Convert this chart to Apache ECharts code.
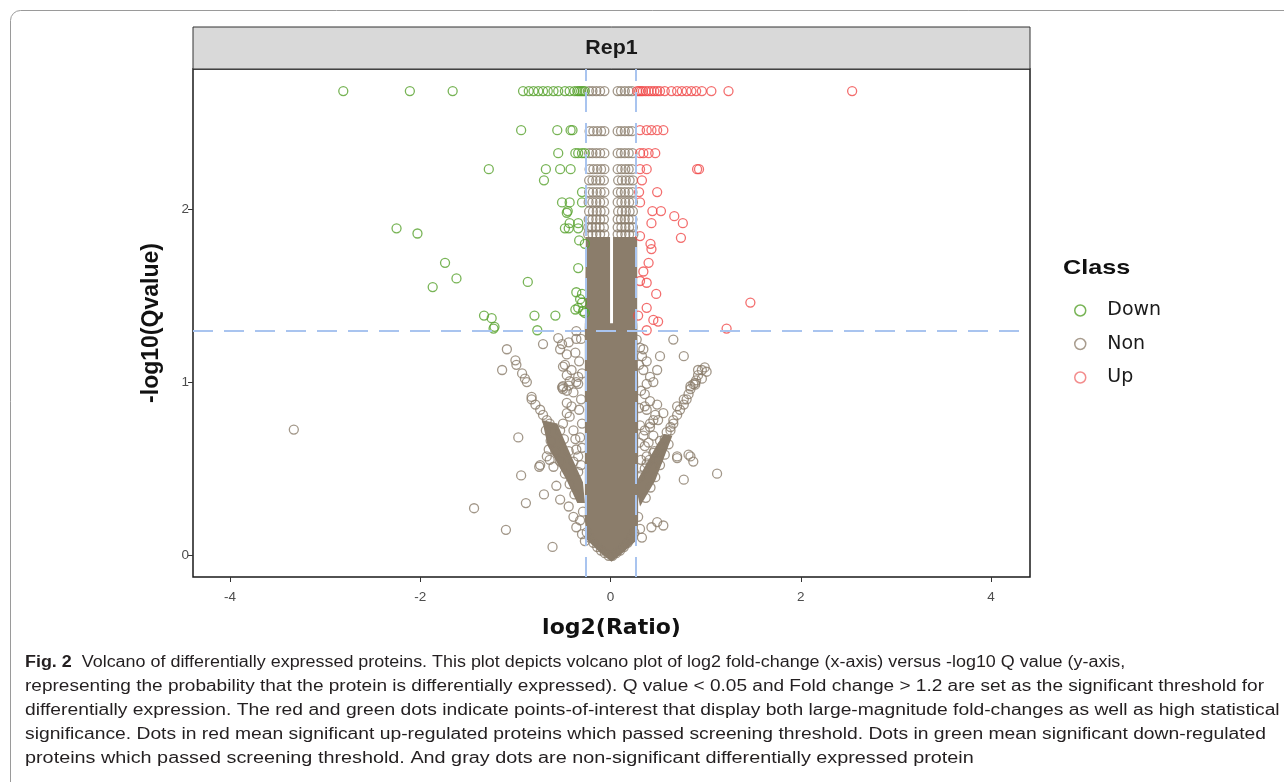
<!DOCTYPE html>
<html>
<head>
<meta charset="utf-8">
<title>Rep1 volcano</title>
<script src="https://cdn.jsdelivr.net/npm/echarts@6.0.0/dist/echarts.min.js"></script>
<style>
  html, body { margin: 0; padding: 0; background: #fff; }
  #main { width: 1284px; height: 782px; }
</style>
</head>
<body>
<div id="main"></div>
<script>
// data
var classNames = ["Down", "Non", "Up"];
var xTicks = [-4, -2, 0, 2, 4];
var yTicks = [0, 1, 2];
var fcCut = 0.263;   // log2(1.2)
var qCut = 1.301;    // -log10(0.05)

var downPoints = [
  [-2.81, 2.684], [-2.11, 2.684], [-1.66, 2.684], [-0.92, 2.684], [-0.86, 2.684], [-0.81, 2.684],
  [-0.76, 2.684], [-0.71, 2.684], [-0.66, 2.684], [-0.6, 2.684], [-0.55, 2.684], [-0.48, 2.684],
  [-0.43, 2.684], [-0.38, 2.684], [-0.35, 2.684], [-0.33, 2.684], [-0.31, 2.684], [-0.29, 2.684], [-0.27, 2.684],
  [-0.94, 2.458], [-0.56, 2.458], [-0.42, 2.458], [-0.4, 2.458],
  [-0.55, 2.325], [-0.37, 2.325], [-0.34, 2.325], [-0.3, 2.325], [-0.27, 2.325],
  [-1.28, 2.232], [-0.68, 2.232], [-0.53, 2.232], [-0.42, 2.232],
  [-0.7, 2.168], [-0.3, 2.1],
  [-0.51, 2.04], [-0.43, 2.04], [-0.3, 2.04],
  [-0.45, 1.99], [-0.46, 1.98], [-0.43, 1.92], [-0.34, 1.92],
  [-0.48, 1.89], [-0.44, 1.89], [-0.34, 1.89], [-0.33, 1.82], [-0.27, 1.8],
  [-0.34, 1.66], [-0.36, 1.52], [-0.3, 1.51], [-0.32, 1.48], [-0.3, 1.46],
  [-0.37, 1.42], [-0.34, 1.43], [-0.29, 1.41], [-0.27, 1.4],
  [-2.25, 1.89], [-2.03, 1.86], [-1.74, 1.69], [-1.62, 1.6], [-1.87, 1.55], [-0.87, 1.58],
  [-1.33, 1.385], [-1.25, 1.37], [-1.23, 1.31], [-1.22, 1.32],
  [-0.8, 1.385], [-0.77, 1.3], [-0.58, 1.385]
];

var upPoints = [
  [0.28, 2.684], [0.3, 2.684], [0.32, 2.684], [0.34, 2.684], [0.37, 2.684], [0.4, 2.684],
  [0.43, 2.684], [0.46, 2.684], [0.49, 2.684], [0.52, 2.684], [0.57, 2.684], [0.64, 2.684],
  [0.7, 2.684], [0.75, 2.684], [0.8, 2.684], [0.85, 2.684], [0.9, 2.684], [0.96, 2.684],
  [1.06, 2.684], [1.24, 2.684], [2.54, 2.684],
  [0.31, 2.458], [0.38, 2.458], [0.43, 2.458], [0.49, 2.458], [0.555, 2.458],
  [0.31, 2.325], [0.345, 2.325], [0.4, 2.325], [0.47, 2.325],
  [0.31, 2.232], [0.38, 2.232], [0.91, 2.232], [0.93, 2.232],
  [0.33, 2.168], [0.3, 2.1], [0.49, 2.1], [0.31, 2.04],
  [0.44, 1.99], [0.53, 1.99], [0.67, 1.96], [0.43, 1.92], [0.76, 1.92],
  [0.31, 1.845], [0.74, 1.835], [0.42, 1.8], [0.43, 1.77], [0.4, 1.69],
  [0.345, 1.64], [0.38, 1.575], [0.31, 1.585], [0.48, 1.51],
  [0.38, 1.43], [0.45, 1.36], [0.5, 1.35], [0.38, 1.3], [0.29, 1.385],
  [1.22, 1.31], [1.47, 1.46]
];

var nonPoints = [
  // stacked rows above the solid columns
  [-0.225, 2.684], [-0.19, 2.684], [-0.15, 2.684], [-0.11, 2.684], [-0.065, 2.684],
  [0.075, 2.684], [0.11, 2.684], [0.15, 2.684], [0.19, 2.684], [0.225, 2.684],
  [-0.22, 2.452], [-0.18, 2.452], [-0.14, 2.452], [-0.1, 2.452], [-0.065, 2.452],
  [0.075, 2.452], [0.11, 2.452], [0.15, 2.452], [0.19, 2.452], [0.225, 2.452],
  [-0.225, 2.325], [-0.19, 2.325], [-0.15, 2.325], [-0.11, 2.325], [-0.065, 2.325],
  [0.075, 2.325], [0.11, 2.325], [0.15, 2.325], [0.19, 2.325], [0.23, 2.325],
  [-0.22, 2.232], [-0.18, 2.232], [-0.14, 2.232], [-0.1, 2.232], [-0.065, 2.232],
  [0.075, 2.232], [0.115, 2.232], [0.155, 2.232], [0.19, 2.232], [0.225, 2.232],
  [-0.225, 2.168], [-0.19, 2.168], [-0.15, 2.168], [-0.11, 2.168], [-0.07, 2.168],
  [0.08, 2.168], [0.12, 2.168], [0.16, 2.168], [0.2, 2.168], [0.235, 2.168],
  [-0.225, 2.099], [-0.185, 2.099], [-0.145, 2.099], [-0.105, 2.099], [-0.065, 2.099],
  [0.075, 2.099], [0.11, 2.099], [0.15, 2.099], [0.19, 2.099], [0.23, 2.099],
  [-0.23, 2.041], [-0.19, 2.041], [-0.15, 2.041], [-0.11, 2.041], [-0.07, 2.041],
  [0.075, 2.041], [0.115, 2.041], [0.155, 2.041], [0.195, 2.041], [0.235, 2.041],
  [-0.225, 1.988], [-0.185, 1.988], [-0.145, 1.988], [-0.105, 1.988], [-0.065, 1.988],
  [0.08, 1.988], [0.12, 1.988], [0.16, 1.988], [0.2, 1.988], [0.235, 1.988],
  [-0.23, 1.942], [-0.19, 1.942], [-0.15, 1.942], [-0.11, 1.942], [-0.07, 1.942],
  [0.075, 1.942], [0.11, 1.942], [0.15, 1.942], [0.19, 1.942], [0.23, 1.942],
  [-0.235, 1.896], [-0.195, 1.896], [-0.155, 1.896], [-0.115, 1.896], [-0.07, 1.896],
  [0.075, 1.896], [0.115, 1.896], [0.155, 1.896], [0.195, 1.896], [0.235, 1.896],
  [-0.235, 1.855], [-0.19, 1.855], [-0.15, 1.855], [-0.11, 1.855], [-0.065, 1.855],
  [0.075, 1.855], [0.115, 1.855], [0.155, 1.855], [0.195, 1.855], [0.24, 1.855],
  // far left and lower left
  [-3.33, 0.725], [-1.435, 0.27], [-1.1, 0.145], [-0.61, 0.046], [-0.97, 0.68],
  [-0.94, 0.46], [-0.89, 0.3], [-0.7, 0.35], [-0.75, 0.51],
  [-0.71, 1.22], [-1.09, 1.19], [-1.0, 1.126], [-0.99, 1.1], [-1.14, 1.07],
  [-0.93, 1.05], [-0.9, 1.02], [-0.88, 1.0], [-0.83, 0.914],
  [-0.55, 1.255], [-0.51, 1.22], [-0.53, 1.19], [-0.44, 1.23], [-0.36, 1.25], [-0.36, 1.295],
  [-0.37, 1.17], [-0.46, 1.16], [-0.5, 1.09], [-0.48, 1.1], [-0.41, 1.07], [-0.46, 1.04],
  [-0.34, 1.03], [-0.36, 1.0], [-0.43, 1.005], [-0.5, 0.976], [-0.51, 0.97], [-0.46, 0.95],
  [-0.5, 0.96], [-0.46, 0.88], [-0.43, 0.8], [-0.5, 0.76], [-0.39, 0.72], [-0.37, 0.67],
  [-0.36, 0.61], [-0.34, 0.57], [-0.67, 0.57], [-0.74, 0.52],
  [-0.57, 0.4], [-0.53, 0.32], [-0.44, 0.28], [-0.39, 0.22], [-0.36, 0.16],
  [-0.65, 0.61], [-0.64, 0.55], [-0.6, 0.51], [-0.46, 0.82], [-0.41, 0.86], [-0.39, 0.94], [-0.44, 0.98],
  // left wing, loose upper part and band edges
  [-0.83, 0.9], [-0.79, 0.87], [-0.74, 0.84], [-0.71, 0.81], [-0.67, 0.78], [-0.64, 0.76],
  [-0.68, 0.72], [-0.63, 0.66], [-0.58, 0.6], [-0.53, 0.54], [-0.48, 0.47], [-0.43, 0.41], [-0.38, 0.35],
  [-0.53, 0.72], [-0.49, 0.67], [-0.44, 0.6], [-0.39, 0.54], [-0.34, 0.48],
  // along the left edge of the core
  [-0.31, 1.25], [-0.33, 1.12], [-0.3, 1.05], [-0.34, 0.99], [-0.31, 0.9], [-0.33, 0.84],
  [-0.3, 0.76], [-0.32, 0.68], [-0.3, 0.62], [-0.31, 0.52], [-0.29, 0.25], [-0.32, 0.2],
  [-0.3, 0.12], [-0.27, 0.08],
  // bottom of the V
  [-0.22, 0.1], [-0.18, 0.07], [-0.14, 0.045], [-0.1, 0.025], [-0.06, 0.01], [-0.02, -0.005],
  [0.02, -0.005], [0.06, 0.01], [0.1, 0.025], [0.14, 0.045], [0.18, 0.07], [0.22, 0.1],
  [0.25, 0.13], [-0.25, 0.13],
  // right of the core
  [0.275, 1.246], [0.345, 1.19], [0.33, 1.15], [0.38, 1.12], [0.345, 1.07], [0.49, 1.07],
  [0.52, 1.15], [0.66, 1.246], [0.77, 1.15], [0.92, 1.07], [0.96, 1.02], [0.89, 0.995],
  [0.415, 1.03], [0.45, 1.0], [0.38, 0.99], [0.36, 0.93], [0.415, 0.89], [0.38, 0.84],
  [0.47, 0.81], [0.5, 0.78], [0.415, 0.76], [0.36, 0.72], [0.45, 0.69], [0.4, 0.65],
  [0.45, 0.59], [0.38, 0.53], [0.36, 0.86], [0.49, 0.87], [0.555, 0.82], [0.45, 0.78],
  [0.415, 0.74], [0.84, 0.976], [0.89, 0.985], [0.77, 0.9], [0.7, 0.86], [0.66, 0.76],
  [0.63, 0.72], [0.84, 0.57], [0.87, 0.54], [0.82, 0.58], [0.7, 0.57], [0.7, 0.56],
  [0.77, 0.435], [1.12, 0.47], [0.49, 0.19], [0.555, 0.17], [0.43, 0.16],
  [0.345, 0.69], [0.36, 0.63], [0.38, 0.57],
  [0.31, 1.2], [0.3, 1.1], [0.32, 0.95], [0.3, 0.85], [0.31, 0.75], [0.3, 0.65],
  [0.32, 0.55], [0.3, 0.45], [0.29, 0.22], [0.31, 0.15], [0.33, 0.1],
  // right wing
  [0.99, 1.085], [1.01, 1.06], [0.96, 1.07], [0.92, 1.04], [0.9, 1.01], [0.87, 0.988],
  [0.84, 0.96], [0.82, 0.93], [0.8, 0.9], [0.77, 0.87], [0.73, 0.84], [0.7, 0.81],
  [0.66, 0.78], [0.63, 0.74], [0.59, 0.71], [0.57, 0.67], [0.54, 0.63], [0.52, 0.59], [0.5, 0.55],
  [0.61, 0.64], [0.57, 0.58], [0.52, 0.52], [0.47, 0.45], [0.42, 0.39], [0.37, 0.33],
  [0.52, 0.66], [0.46, 0.6], [0.41, 0.55], [0.36, 0.5], [0.32, 0.46]
];

// outlines of the solid (over-plotted) gray mass
var coreShape = [
  [0.01, -0.04], [-0.11, 0.012], [-0.25, 0.087], [-0.27, 0.2], [-0.27, 0.6], [-0.27, 1.0],
  [-0.27, 1.34], [0.28, 1.34], [0.29, 1.0], [0.29, 0.6], [0.29, 0.2], [0.28, 0.087], [0.13, 0.012]
];
var leftColShape = [[-0.27, 1.3], [-0.005, 1.3], [-0.005, 1.84], [-0.26, 1.84]];
var rightColShape = [[0.026, 1.3], [0.28, 1.3], [0.28, 1.84], [0.026, 1.84]];
var leftWingShape = [
  [-0.72, 0.78], [-0.56, 0.76], [-0.46, 0.63], [-0.29, 0.42], [-0.27, 0.3],
  [-0.35, 0.3], [-0.46, 0.43], [-0.66, 0.63]
];
var rightWingShape = [
  [0.56, 0.7], [0.65, 0.69], [0.47, 0.43], [0.31, 0.28], [0.28, 0.36], [0.29, 0.44], [0.48, 0.63]
];
var massShapes = [coreShape, leftColShape, rightColShape, leftWingShape, rightWingShape];

var captionLines = [
  "{b|Fig. 2}  Volcano of differentially expressed proteins. This plot depicts volcano plot of log2 fold-change (x-axis) versus -log10 Q value (y-axis,",
  "representing the probability that the protein is differentially expressed). Q value < 0.05 and Fold change > 1.2 are set as the significant threshold for",
  "differentially expression. The red and green dots indicate points-of-interest that display both large-magnitude fold-changes as well as high statistical",
  "significance. Dots in red mean significant up-regulated proteins which passed screening threshold. Dots in green mean significant down-regulated",
  "proteins which passed screening threshold. And gray dots are non-significant differentially expressed protein"
];

void (function() {
  var chart = echarts.init(document.getElementById("main"));

  var green = "#56a12c";
  var gray = "#8b7d6b";
  var red = "#f04a4a";
  var font = "Liberation Sans, Arial, sans-serif";
  var wide = "DejaVu Sans, Verdana, sans-serif";

  function ring(c) {
    return { color: "rgba(0,0,0,0)", borderColor: c, borderWidth: 1.3 };
  }

  // the figure is stretched sideways, so texts get a small scaleX
  var graphics = [
    {
      type: "rect",
      shape: { x: 10.5, y: 10.5, width: 1300, height: 800, r: 10 },
      style: { fill: "none", stroke: "#9a9a9a", lineWidth: 1 },
      silent: true
    },
    {
      type: "rect",
      shape: { x: 193, y: 27, width: 837, height: 42 },
      style: { fill: "#d9d9d9", stroke: "#333", lineWidth: 1 },
      silent: true
    },
    {
      type: "text",
      x: 611.5,
      y: 48,
      scaleX: 1.07,
      style: {
        text: "Rep1",
        fill: "#1a1a1a",
        font: "bold 20px " + font,
        textAlign: "center",
        textVerticalAlign: "middle"
      }
    },
    {
      type: "text",
      x: 1063,
      y: 268,
      scaleX: 1.2,
      style: {
        text: "Class",
        fill: "#111",
        font: "bold 21px " + font,
        textVerticalAlign: "middle"
      }
    }
  ];

  var lineY = [663, 687, 711, 735, 759];
  var lineScale = [1.12, 1.19, 1.204, 1.205, 1.238];
  for (var i = 0; i < captionLines.length; i++) {
    graphics.push({
      type: "text",
      x: 25,
      y: lineY[i],
      scaleX: lineScale[i],
      style: {
        text: captionLines[i],
        fill: "#231f20",
        fontSize: 16,
        fontFamily: font,
        textVerticalAlign: "middle",
        rich: { b: { fontWeight: "bold", fontSize: 16, fontFamily: font, fill: "#231f20" } }
      }
    });
  }

  var option = {
    animation: false,
    backgroundColor: "#fff",
    grid: {
      left: 193,
      right: 254,
      top: 69,
      bottom: 205,
      show: true,
      borderColor: "#1a1a1a",
      borderWidth: 1.5
    },
    legend: {
      orient: "vertical",
      left: 1069,
      top: 296,
      itemWidth: 34,
      itemHeight: 11,
      itemGap: 14.5,
      icon: "circle",
      textStyle: { fontSize: 19, color: "#1a1a1a", fontFamily: wide, lineHeight: 18, padding: [0, 0, 0, 5] },
      data: [
        { name: "Down", itemStyle: { color: "rgba(0,0,0,0)", borderColor: green, borderWidth: 1.5 } },
        { name: "Non", itemStyle: { color: "rgba(0,0,0,0)", borderColor: "#a89c8e", borderWidth: 1.5 } },
        { name: "Up", itemStyle: { color: "rgba(0,0,0,0)", borderColor: "#f07070", borderWidth: 1.5 } }
      ]
    },
    xAxis: {
      type: "value",
      min: -4.39,
      max: 4.41,
      name: "log2(Ratio)",
      nameLocation: "middle",
      nameGap: 40,
      nameTextStyle: { fontSize: 22, fontWeight: "bold", color: "#111", fontFamily: wide },
      axisLine: { show: false, onZero: false },
      axisTick: { show: true, length: 5, customValues: xTicks, lineStyle: { color: "#333", width: 1 } },
      axisLabel: { customValues: xTicks, color: "#4d4d4d", fontSize: 13.5, margin: 13, fontFamily: font },
      splitLine: { show: false }
    },
    yAxis: {
      type: "value",
      min: -0.128,
      max: 2.812,
      name: "-log10(Qvalue)",
      nameLocation: "middle",
      nameRotate: 90,
      nameGap: 30,
      nameTextStyle: { fontSize: 23, fontWeight: "bold", color: "#111", fontFamily: font },
      axisLine: { show: false, onZero: false },
      axisTick: { show: true, length: 5, customValues: yTicks, lineStyle: { color: "#333", width: 1 } },
      axisLabel: { customValues: yTicks, color: "#4d4d4d", fontSize: 13.5, margin: 4, fontFamily: font },
      splitLine: { show: false }
    },
    graphic: graphics,
    series: [
      {
        name: "Non",
        type: "custom",
        silent: true,
        data: massShapes.map(function() { return [0, 0]; }),
        renderItem: function(params, api) {
          var pts = massShapes[params.dataIndex].map(function(p) { return api.coord(p); });
          return { type: "polygon", shape: { points: pts }, style: { fill: gray } };
        }
      },
      {
        name: "Non",
        type: "scatter",
        symbol: "circle",
        symbolSize: 9,
        itemStyle: ring(gray),
        emphasis: { disabled: true },
        data: nonPoints
      },
      {
        name: "Down",
        type: "scatter",
        symbol: "circle",
        symbolSize: 9,
        itemStyle: ring(green),
        emphasis: { disabled: true },
        data: downPoints
      },
      {
        name: "Up",
        type: "scatter",
        symbol: "circle",
        symbolSize: 9,
        itemStyle: ring(red),
        emphasis: { disabled: true },
        data: upPoints,
        markLine: {
          silent: true,
          symbol: "none",
          label: { show: false },
          lineStyle: { color: "#a9c4ef", width: 2, type: [20, 11] },
          data: [{ xAxis: -fcCut }, { xAxis: fcCut }, { yAxis: qCut }]
        }
      }
    ]
  };

  chart.setOption(option);
})();
</script>
</body>
</html>
